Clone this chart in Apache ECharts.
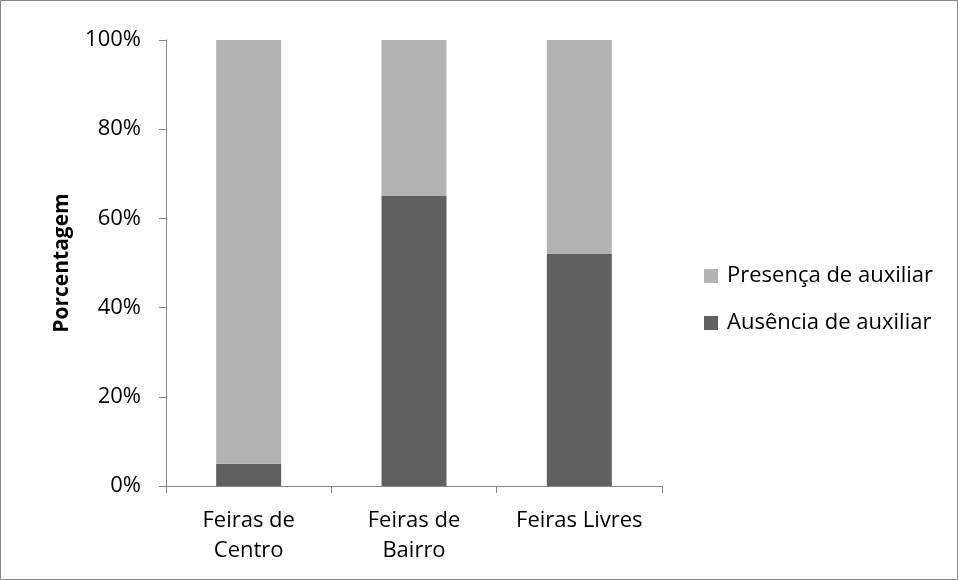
<!DOCTYPE html>
<html><head><meta charset="utf-8">
<script src="https://cdn.jsdelivr.net/npm/echarts@6/dist/echarts.min.js"></script>
<style>html,body{margin:0;padding:0;background:#fff}#c{width:958px;height:580px}</style>
</head><body><div id="c"></div>
<script>
const categories = ['Feiras de\nCentro', 'Feiras de\nBairro', 'Feiras Livres'];
const ausencia = [5, 65, 52];
const presenca = [95, 35, 48];
const yTicks = [0, 20, 40, 60, 80, 100];
const seriesNames = ['Presença de auxiliar', 'Ausência de auxiliar'];

const chart = echarts.init(document.getElementById('c'));
const font = '"Open Sans", "Liberation Sans", sans-serif';
chart.setOption({
  animation: false,
  graphic: [{type:'rect', shape:{x:0.5,y:0.5,width:957,height:579}, style:{fill:'none', stroke:'#868686', lineWidth:1}}],
  grid: {left:166, right:296, top:40, bottom:94},
  legend: {
    orient:'vertical', left:699, top:260, itemWidth:14, itemHeight:14, itemGap:25,
    data: seriesNames,
    textStyle:{fontFamily:font, fontSize:22, color:'#000', lineHeight:22, padding:[0,0,0,4]},
    icon:'rect'
  },
  xAxis: {
    type:'category', data:categories,
    axisLine:{lineStyle:{color:'#868686'}},
    axisTick:{show:true, length:7, lineStyle:{color:'#868686'}},
    axisLabel:{fontFamily:font, fontSize:22, color:'#000', lineHeight:30, margin:20}
  },
  yAxis: {
    type:'value', min:0, max:100, interval:20,
    name:'Porcentagem', nameLocation:'middle', nameGap:93, nameRotate:90,
    nameTextStyle:{fontFamily:font, fontSize:21, fontWeight:'bold', color:'#000'},
    axisLine:{show:true, lineStyle:{color:'#868686'}},
    axisTick:{show:true, length:7, lineStyle:{color:'#868686'}},
    splitLine:{show:false},
    axisLabel:{fontFamily:font, fontSize:22, color:'#000', margin:25, formatter: v => yTicks.includes(v) ? v + '%' : ''}
  },
  series: [
    {name:seriesNames[1], type:'bar', stack:'a', data:ausencia, barWidth:65, itemStyle:{color:'#606060'}},
    {name:seriesNames[0], type:'bar', stack:'a', data:presenca, barWidth:65, itemStyle:{color:'#b2b2b2'}}
  ]
});
</script></body></html>
